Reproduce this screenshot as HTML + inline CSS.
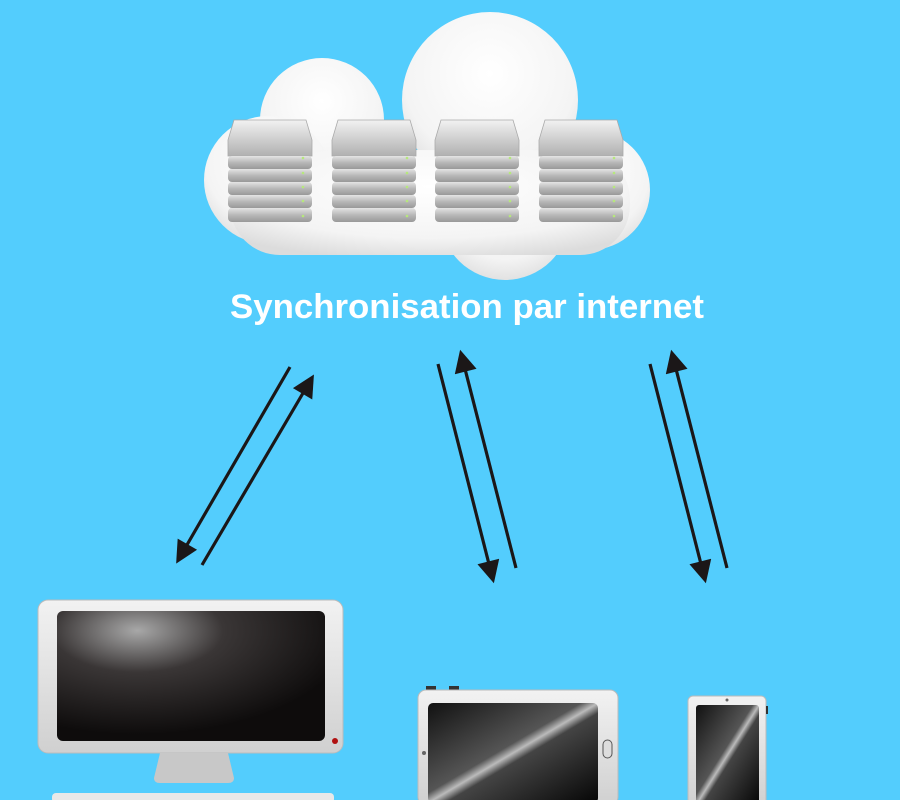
<!DOCTYPE html>
<html><head><meta charset="utf-8"><style>
html,body{margin:0;padding:0;background:#53cdfd;}
svg{display:block}
</style></head><body>
<svg width="900" height="800" viewBox="0 0 900 800" xmlns="http://www.w3.org/2000/svg">
<defs>
<radialGradient id="cl" cx="0.5" cy="0.35" r="0.7">
<stop offset="0" stop-color="#ffffff"/><stop offset="0.7" stop-color="#f4f4f4"/><stop offset="1" stop-color="#dcdcdc"/>
</radialGradient>
<linearGradient id="srv" x1="0" y1="0" x2="0" y2="1">
<stop offset="0" stop-color="#f2f2f2"/><stop offset="1" stop-color="#b0b0b0"/>
</linearGradient>
<linearGradient id="slab" x1="0" y1="0" x2="0" y2="1">
<stop offset="0" stop-color="#e4e4e4"/><stop offset="0.5" stop-color="#b8b8b8"/><stop offset="1" stop-color="#999"/>
</linearGradient>
<radialGradient id="scr" cx="0.3" cy="0.15" r="0.8">
<stop offset="0" stop-color="#a8a8a8"/><stop offset="0.4" stop-color="#3a3636"/><stop offset="1" stop-color="#0e0c0c"/>
</radialGradient>
<linearGradient id="tab" x1="0" y1="0" x2="1" y2="1">
<stop offset="0" stop-color="#111"/><stop offset="0.45" stop-color="#555"/><stop offset="0.5" stop-color="#bbb"/><stop offset="0.55" stop-color="#444"/><stop offset="1" stop-color="#050505"/>
</linearGradient>
<linearGradient id="bez" x1="0" y1="0" x2="0" y2="1">
<stop offset="0" stop-color="#f2f2f2"/><stop offset="1" stop-color="#d0d0d0"/>
</linearGradient>
<marker id="ah" viewBox="0 0 10 10" refX="3" refY="5" markerWidth="8" markerHeight="7" orient="auto" markerUnits="strokeWidth">
<path d="M0,0 L10,5 L0,10 z" fill="#1b1718"/>
</marker>
</defs>

<!-- cloud -->
<g fill="url(#cl)">
<circle cx="490" cy="100" r="88"/>
<circle cx="322" cy="120" r="62"/>
<circle cx="268" cy="180" r="64"/>
<circle cx="590" cy="190" r="60"/>
<circle cx="505" cy="215" r="65"/>
<rect x="230" y="150" width="400" height="105" rx="50"/>
</g>

<!-- servers -->
<g>
<g id="s1">
<path d="M234,120 h72 l6,20 v16 h-84 v-16 z" fill="url(#srv)" stroke="#aaa" stroke-width="0.8"/>
<rect x="228" y="156" width="84" height="13" rx="4" fill="url(#slab)"/>
<rect x="228" y="169" width="84" height="13" rx="4" fill="url(#slab)"/>
<rect x="228" y="182" width="84" height="13" rx="4" fill="url(#slab)"/>
<rect x="228" y="195" width="84" height="13" rx="4" fill="url(#slab)"/>
<rect x="228" y="208" width="84" height="14" rx="4" fill="url(#slab)"/>
<g fill="#b6e87c"><circle cx="303" cy="158" r="1.3"/><circle cx="303" cy="173" r="1.3"/><circle cx="303" cy="187" r="1.3"/><circle cx="303" cy="201" r="1.3"/><circle cx="303" cy="216" r="1.3"/></g>
</g>
<use href="#s1" x="104"/>
<use href="#s1" x="207"/>
<use href="#s1" x="311"/>
</g>

<text x="467" y="318" text-anchor="middle" font-family="Liberation Sans, sans-serif" font-weight="bold" font-size="34" fill="#ffffff" textLength="474" lengthAdjust="spacingAndGlyphs">Synchronisation par internet</text>

<!-- arrows -->
<g stroke="#1b1718" stroke-width="3.2" fill="none" marker-end="url(#ah)">
<line x1="290" y1="367" x2="184" y2="550"/>
<line x1="202" y1="565" x2="306" y2="388"/>
<line x1="438" y1="364" x2="490" y2="568"/>
<line x1="516" y1="568" x2="464" y2="365"/>
<line x1="650" y1="364" x2="702" y2="568"/>
<line x1="727" y1="568" x2="675" y2="365"/>
</g>

<!-- monitor -->
<rect x="38" y="600" width="305" height="153" rx="10" fill="url(#bez)" stroke="#bbb"/>
<rect x="57" y="611" width="268" height="130" rx="6" fill="url(#scr)"/>
<circle cx="335" cy="741" r="3" fill="#b01010"/>
<path d="M160,753 h68 l6,25 q0,5 -6,5 h-68 q-6,0 -6,-5 z" fill="#c8c8c8"/>
<rect x="52" y="793" width="282" height="10" rx="4" fill="#e8e8e8"/>

<!-- tablet -->
<rect x="426" y="686" width="10" height="5" fill="#333"/>
<rect x="449" y="686" width="10" height="5" fill="#333"/>
<rect x="418" y="690" width="200" height="115" rx="8" fill="url(#bez)" stroke="#bbb"/>
<rect x="428" y="703" width="170" height="100" rx="5" fill="url(#tab)"/>
<rect x="603" y="740" width="9" height="18" rx="4.5" fill="#ddd" stroke="#555"/>
<circle cx="424" cy="753" r="2" fill="#666"/>

<!-- phone -->
<rect x="688" y="696" width="78" height="110" rx="5" fill="url(#bez)" stroke="#bbb"/>
<rect x="696" y="705" width="63" height="100" rx="3" fill="url(#tab)"/>
<circle cx="727" cy="700" r="1.5" fill="#666"/>
<rect x="766" y="706" width="2" height="8" fill="#333"/>
</svg>
</body></html>
